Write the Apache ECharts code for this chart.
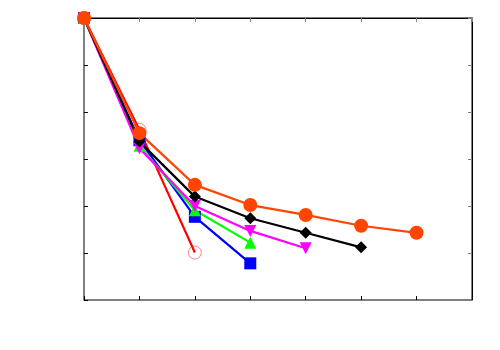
<!DOCTYPE html>
<html>
<head>
<meta charset="utf-8">
<script src="https://cdn.jsdelivr.net/npm/echarts@6/dist/echarts.min.js"></script>
<style>
  html, body { margin: 0; padding: 0; background: #fff; }
  #chart { width: 500px; height: 350px; }
</style>
</head>
<body>
<div id="chart"></div>
<script>
// x positions 0..7
const redVals = [6, 3.62, 1.01];
const blueVals = [6, 3.40, 1.77, 0.78];
const greenVals = [6, 3.28, 1.91, 1.22];
const magentaVals = [6, 3.23, 2.0, 1.47, 1.1];
const blackVals = [6, 3.37, 2.2, 1.74, 1.43, 1.12];
const orangeVals = [6, 3.55, 2.45, 2.02, 1.81, 1.58, 1.43];

const toPts = arr => arr.map((v, i) => [i, v]);

const chart = echarts.init(document.getElementById('chart'));

function mkSeries(name, vals, color, symbol, size, extra) {
    return Object.assign({
        name: name,
        type: 'line',
        data: toPts(vals),
        symbol: symbol,
        symbolSize: size,
        showAllSymbol: true,
        lineStyle: { color: color, width: 2.2 },
        itemStyle: { color: color },
        animation: false
    }, extra || {});
}

function mkAxis(max, pos, lineColor, tickColor) {
    return {
        type: 'value',
        min: 0,
        max: max,
        interval: 1,
        position: pos,
        axisLabel: { show: false },
        splitLine: { show: false },
        axisLine: { show: true, onZero: false, lineStyle: { color: lineColor, width: 1 } },
        axisTick: { show: true, inside: true, length: 4, lineStyle: { color: tickColor } }
    };
}

const option = {
    backgroundColor: '#fff',
    grid: { left: 84, right: 28, top: 18, bottom: 50, show: true, borderColor: '#000', borderWidth: 1 },
    xAxis: [mkAxis(7, 'bottom', '#808080', '#000'), mkAxis(7, 'top', '#000', '#808080')],
    yAxis: [mkAxis(6, 'left', '#808080', '#000'), mkAxis(6, 'right', '#000', '#808080')],
    series: [
        // empty series so the top and right axes get drawn
        { type: 'line', xAxisIndex: 1, yAxisIndex: 1, data: [], silent: true },
        mkSeries('red', redVals, '#ff0000', 'circle', 13, {
            itemStyle: { color: 'rgba(255,255,255,0)', borderColor: '#ff3030', borderWidth: 0.6 }
        }),
        mkSeries('blue', blueVals, '#0000ff', 'rect', 12),
        mkSeries('green', greenVals, '#00ff00', 'triangle', 12),
        mkSeries('magenta', magentaVals, '#ff00ff', 'triangle', 12, { symbolRotate: 180 }),
        mkSeries('black', blackVals, '#000000', 'diamond', 12),
        mkSeries('orange', orangeVals, '#ff4500', 'circle', 14)
    ]
};

chart.setOption(option);
</script>
</body>
</html>
